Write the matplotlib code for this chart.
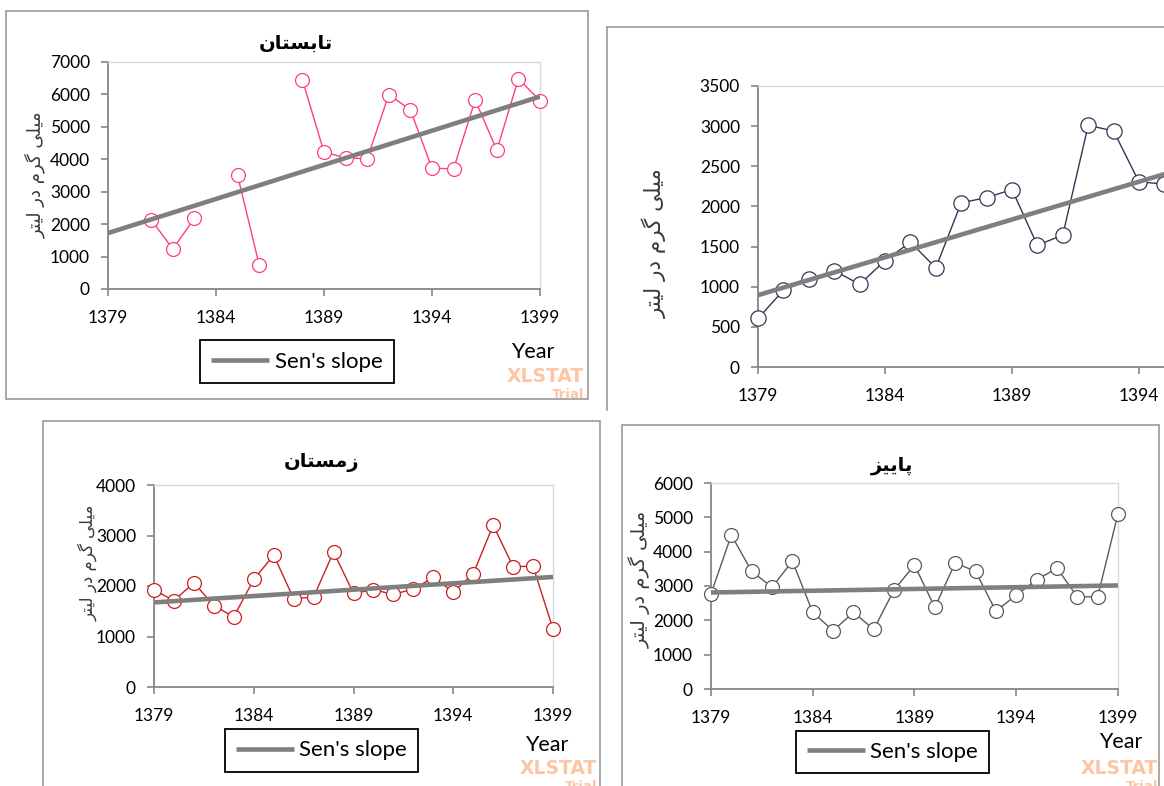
import numpy as np
import matplotlib
matplotlib.use("Agg")
import matplotlib.pyplot as plt
from matplotlib.patches import Rectangle
from matplotlib.lines import Line2D

# ---------------- data ----------------
years = [1379, 1380, 1381, 1382, 1383, 1384, 1385, 1386, 1387, 1388, 1389,
         1390, 1391, 1392, 1393, 1394, 1395, 1396, 1397, 1398, 1399]
nan = np.nan
summer = [nan, nan, 2140, 1230, 2180, nan, 3500, 740, nan, 6450, 4220,
          4045, 4015, 5995, 5525, 3725, 3705, 5830, 4280, 6480, 5810]
spring_years = [1379, 1380, 1381, 1382, 1383, 1384, 1385, 1386, 1387, 1388,
                1389, 1390, 1391, 1392, 1393, 1394, 1395]
spring = [605, 955, 1090, 1200, 1030, 1325, 1555, 1235, 2045, 2110,
          2210, 1515, 1645, 3010, 2940, 2305, 2280]
winter = [1920, 1710, 2065, 1610, 1390, 2130, 2610, 1750, 1780, 2675, 1855,
          1925, 1835, 1940, 2170, 1880, 2240, 3205, 2385, 2390, 1150]
autumn = [2770, 4485, 3425, 2965, 3725, 2230, 1700, 2230, 1740, 2890, 3610,
          2375, 3675, 3425, 2265, 2735, 3180, 3520, 2685, 2685, 5105]
sen_years = [1379, 1399]
summer_sen = [1725, 5934]
spring_sen = [895, 2779]
winter_sen = [1675, 2179]
autumn_sen = [2811, 3016]
xticks = [1379, 1384, 1389, 1394, 1399]

title_summer = "تابستان"
title_winter = "زمستان"
title_autumn = "پاییز"
ylabel_text = "میلی گرم در لیتر"
legend_label = "Sen's slope"
xlabel_text = "Year"

# ------------- simple Persian shaping (presentation forms, visual order) -------------
FORMS = {
    'ا': ('\uFE8D', '\uFE8E', None, None),
    'ب': ('\uFE8F', '\uFE90', '\uFE91', '\uFE92'),
    'پ': ('\uFB56', '\uFB57', '\uFB58', '\uFB59'),
    'ت': ('\uFE95', '\uFE96', '\uFE97', '\uFE98'),
    'د': ('\uFEA9', '\uFEAA', None, None),
    'ر': ('\uFEAD', '\uFEAE', None, None),
    'ز': ('\uFEAF', '\uFEB0', None, None),
    'س': ('\uFEB1', '\uFEB2', '\uFEB3', '\uFEB4'),
    'ل': ('\uFEDD', '\uFEDE', '\uFEDF', '\uFEE0'),
    'م': ('\uFEE1', '\uFEE2', '\uFEE3', '\uFEE4'),
    'ن': ('\uFEE5', '\uFEE6', '\uFEE7', '\uFEE8'),
    'ی': ('\uFBFC', '\uFBFD', '\uFBFE', '\uFBFF'),
    'گ': ('\uFB92', '\uFB93', '\uFB94', '\uFB95'),
}


def shape(s):
    out = []
    n = len(s)
    for i, c in enumerate(s):
        if c not in FORMS:
            out.append(c)
            continue
        prev = s[i - 1] if i > 0 else None
        nxt = s[i + 1] if i < n - 1 else None
        cp = prev in FORMS and FORMS[prev][2] is not None
        cn = nxt in FORMS and FORMS[c][2] is not None
        f = FORMS[c]
        if cp and cn:
            out.append(f[3])
        elif cp:
            out.append(f[1])
        elif cn:
            out.append(f[2])
        else:
            out.append(f[0])
    return ''.join(out[::-1])


# ---------------- figure ----------------
W, H = 1164, 786
fig = plt.figure(figsize=(W / 100, H / 100), dpi=100)
fig.patch.set_facecolor('white')

LATIN = ['Lato', 'DejaVu Sans']
ARABIC = ['DejaVu Sans']
AXIS_GRAY = '#868686'
BOX_GRAY = '#9a9a9a'
SEN_GRAY = '#7f7f7f'


def fx(x):
    return x / W


def fy(y):
    return 1 - y / H


def box(l, t, r, b):
    fig.add_artist(Rectangle((fx(l), fy(b)), fx(r) - fx(l), fy(t) - fy(b),
                             transform=fig.transFigure, fill=False,
                             edgecolor=BOX_GRAY, linewidth=1.2, zorder=0))


def make_axes(l, t, r, b, ymax, ystep):
    ax = fig.add_axes([fx(l), fy(b), fx(r) - fx(l), fy(t) - fy(b)])
    ax.set_xlim(1379, 1399)
    ax.set_ylim(0, ymax)
    ax.set_xticks(xticks)
    ax.set_xticklabels([str(v) for v in xticks])
    ax.set_yticks(np.arange(0, ymax + 1, ystep))
    for side in ('top', 'right'):
        ax.spines[side].set_color('#d9d9d9')
        ax.spines[side].set_linewidth(1.0)
    for side in ('left', 'bottom'):
        ax.spines[side].set_color(AXIS_GRAY)
        ax.spines[side].set_linewidth(1.3)
    ax.tick_params(axis='both', direction='out', length=5, width=1.2,
                   color=AXIS_GRAY, labelsize=12.5, pad=8)
    ax.tick_params(axis='x', pad=10)
    for lab in ax.get_xticklabels() + ax.get_yticklabels():
        lab.set_family(LATIN)
    return ax


def series(ax, xs, ys, color, ms=10):
    ax.plot(xs, ys, color=color, linewidth=1.0, marker='o', markersize=ms,
            markerfacecolor='white', markeredgecolor=color,
            markeredgewidth=0.9, zorder=3, clip_on=False)


def sen(ax, ys):
    line, = ax.plot(sen_years, ys, color=SEN_GRAY, linewidth=3.3,
                    solid_capstyle='butt', zorder=4, label=legend_label)
    return line


def legend(ax, line, l, t, r, b):
    cx = (l + r) / 2
    cy = (t + b) / 2
    leg = ax.legend(handles=[line], loc='center',
                    bbox_to_anchor=(fx(cx), fy(cy)),
                    bbox_transform=fig.transFigure, frameon=True,
                    fancybox=False, edgecolor='black', framealpha=1,
                    handlelength=2.6, handletextpad=0.25, borderpad=0.5,
                    prop={'family': LATIN, 'size': 16})
    leg.get_frame().set_linewidth(1.3)
    return leg


def title(x, y, s):
    fig.text(fx(x), fy(y), shape(s), ha='center', va='center',
             family=ARABIC, fontsize=14, fontweight='bold')


def ylabel(x, y, size):
    fig.text(fx(x), fy(y), shape(ylabel_text), ha='center', va='center',
             rotation=90, family=ARABIC, fontsize=size, color='#3a3a3a')


def year(x, y):
    fig.text(fx(x), fy(y), xlabel_text, ha='center', va='center',
             family=LATIN, fontsize=15.5)


def watermark(xr, y):
    fig.text(fx(xr), fy(y), "XLSTAT", ha='right', va='center',
             family=['DejaVu Sans'], fontweight='bold', fontsize=13.5,
             color='#fcc6a2')
    fig.text(fx(xr), fy(y + 18), "Trial", ha='right', va='center',
             family=['DejaVu Sans'], fontweight='bold', fontsize=9.5,
             color='#fcc6a2')


# ---- boxes ----
box(6, 11, 588, 399)
fig.add_artist(Line2D([fx(607), fx(607)], [fy(27), fy(410)],
                      transform=fig.transFigure, color=BOX_GRAY, linewidth=1.2))
fig.add_artist(Line2D([fx(607), fx(1170)], [fy(27), fy(27)],
                      transform=fig.transFigure, color=BOX_GRAY, linewidth=1.2))
box(43, 421, 600, 820)
box(622, 425, 1159, 820)

# ---- summer ----
ax1 = make_axes(108, 62, 540, 289, 7000, 1000)
series(ax1, years, summer, '#ff3d83')
l1 = sen(ax1, summer_sen)
legend(ax1, l1, 194, 339, 400, 384)
title(296, 43, title_summer)
ylabel(35, 175, 13)
year(533, 352)
watermark(584, 376)

# ---- spring ----
ax2 = make_axes(758, 86, 1266, 367, 3500, 500)
series(ax2, spring_years, spring, '#3f3151', ms=11)
sen(ax2, spring_sen)
ylabel(655, 243, 15.5)

# ---- winter ----
ax3 = make_axes(154, 485, 553, 687, 4000, 1000)
series(ax3, years, winter, '#cc1f1f')
l3 = sen(ax3, winter_sen)
legend(ax3, l3, 219, 728, 424, 773)
title(322, 462, title_winter)
ylabel(88, 563, 12)
year(547, 745)
watermark(597, 769)

# ---- autumn ----
ax4 = make_axes(711, 483, 1118, 689, 6000, 1000)
series(ax4, years, autumn, '#5a5a5a')
l4 = sen(ax4, autumn_sen)
legend(ax4, l4, 789, 730, 996, 774)
title(892, 465, title_autumn)
ylabel(640, 579, 14)
year(1121, 742)
watermark(1158, 769)

fig.savefig('out.png', dpi=100, facecolor='white')
